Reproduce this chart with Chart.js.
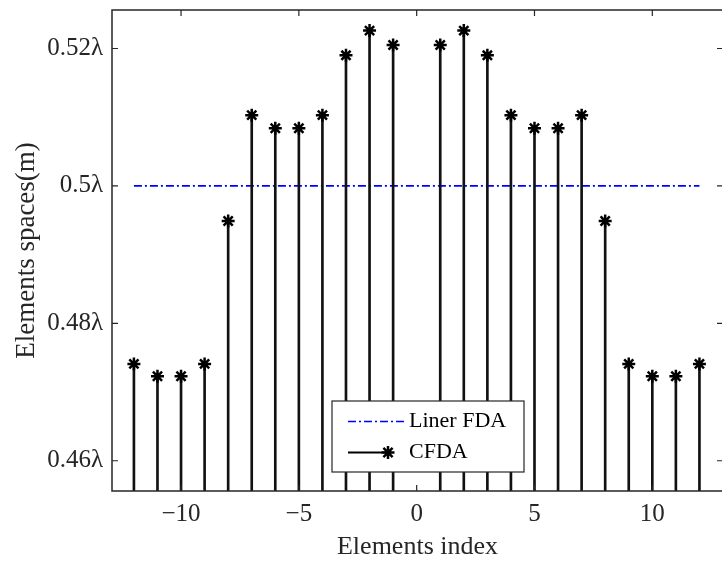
<!DOCTYPE html>
<html>
<head>
<meta charset="utf-8">
<script src="https://cdn.jsdelivr.net/npm/chart.js@4/dist/chart.umd.min.js"></script>
<style>
  html, body { margin: 0; padding: 0; background: #fff; overflow: hidden; }
  #wrap { width: 732px; height: 563px; }
</style>
</head>
<body>
<div id="wrap"><canvas id="myChart" width="732" height="563"></canvas></div>
<script>
// element indices (no element at 0)
var elementIndex = [-12, -11, -10, -9, -8, -7, -6, -5, -4, -3, -2, -1,
                    1, 2, 3, 4, 5, 6, 7, 8, 9, 10, 11, 12];
// CFDA element spacing, in units of lambda
var cfdaSpacing = [0.4741, 0.4723, 0.4723, 0.4741, 0.4949, 0.5103, 0.5084, 0.5084, 0.5103, 0.5190, 0.5226, 0.5205,
                   0.5205, 0.5226, 0.5190, 0.5103, 0.5084, 0.5084, 0.5103, 0.4949, 0.4741, 0.4723, 0.4723, 0.4741];
// linear FDA: uniform half-wavelength spacing
var linerX = [-12, 12];
var linerSpacing = [0.5, 0.5];

var xTicks = [-10, -5, 0, 5, 10];
var yTicks = [0.46, 0.48, 0.5, 0.52];
var xMin = -12.93, xMax = 13;
var yMin = 0.4556, yMax = 0.5256;

var axisColor = "#262626";
var serif = "'Liberation Serif', 'Times New Roman', serif";

// MATLAB-like box with inward ticks, plus a legend inside the axes
var boxPlugin = {
    id: "box",
    afterDraw(chart) {
        var ctx = chart.ctx, a = chart.chartArea;
        var xs = chart.scales.x, ys = chart.scales.y;
        ctx.save();
        ctx.strokeStyle = axisColor;
        ctx.lineWidth = 1.5;
        ctx.strokeRect(a.left, a.top, a.right - a.left, a.bottom - a.top);
        ctx.lineWidth = 1.2;
        var len = 6;
        ctx.beginPath();
        xTicks.forEach(v => {
            var px = xs.getPixelForValue(v);
            ctx.moveTo(px, a.bottom); ctx.lineTo(px, a.bottom - len);
            ctx.moveTo(px, a.top); ctx.lineTo(px, a.top + len);
        });
        yTicks.forEach(v => {
            var py = ys.getPixelForValue(v);
            ctx.moveTo(a.left, py); ctx.lineTo(a.left + len, py);
            ctx.moveTo(a.right, py); ctx.lineTo(a.right - len, py);
        });
        ctx.stroke();

        // legend
        var lx = 332, ly = 401, lw = 192, lh = 71;
        ctx.fillStyle = "#fff";
        ctx.fillRect(lx, ly, lw, lh);
        ctx.strokeStyle = axisColor;
        ctx.lineWidth = 1.2;
        ctx.strokeRect(lx, ly, lw, lh);

        ctx.strokeStyle = "#0000ff";
        ctx.lineWidth = 1.6;
        ctx.setLineDash([8, 3, 2, 3]);
        ctx.beginPath();
        ctx.moveTo(348, 421.5); ctx.lineTo(405, 421.5);
        ctx.stroke();
        ctx.setLineDash([]);

        ctx.strokeStyle = "#000";
        ctx.lineWidth = 1.8;
        ctx.beginPath();
        ctx.moveTo(348, 452.5); ctx.lineTo(388, 452.5);
        ctx.stroke();
        var r = 6.5;
        ctx.lineWidth = 2.5;
        ctx.beginPath();
        for (var k = 0; k < 4; k++) {
            var ang = k * Math.PI / 4;
            ctx.moveTo(388 - r * Math.cos(ang), 452.5 - r * Math.sin(ang));
            ctx.lineTo(388 + r * Math.cos(ang), 452.5 + r * Math.sin(ang));
        }
        ctx.stroke();

        ctx.fillStyle = "#000";
        ctx.font = "22px " + serif;
        ctx.textBaseline = "middle";
        ctx.fillText("Liner FDA", 409, 421.5);
        ctx.fillText("CFDA", 409, 452.5);
        ctx.restore();
    }
};

const data = {
    datasets: [
        {
            type: "line",
            label: "Liner FDA",
            data: linerX.map((x, i) => ({ x: x, y: linerSpacing[i] })),
            borderColor: "#0000ff",
            borderWidth: 1.6,
            borderDash: [8, 3, 2, 3],
            pointRadius: 0,
            fill: false,
            order: 3
        },
        {
            type: "line",
            label: "CFDA markers",
            data: elementIndex.map((x, i) => ({ x: x, y: cfdaSpacing[i] })),
            showLine: false,
            pointStyle: "star",
            pointRadius: 6.5,
            pointBorderWidth: 2.5,
            pointBorderColor: "#000",
            pointBackgroundColor: "#000",
            order: 1
        },
        {
            type: "bar",
            label: "CFDA",
            data: elementIndex.map((x, i) => ({ x: x, y: cfdaSpacing[i] })),
            base: yMin,
            backgroundColor: "#111",
            barThickness: 2,
            order: 2
        }
    ]
};

const config = {
    type: "bar",
    data: data,
    options: {
        responsive: false,
        animation: false,
        layout: { padding: { top: 10, right: 5.5, left: 0, bottom: 0 } },
        plugins: { legend: { display: false }, tooltip: { enabled: false } },
        scales: {
            x: {
                type: "linear",
                min: xMin,
                max: xMax,
                offset: false,
                grid: { display: false, drawTicks: false },
                border: { display: false },
                afterBuildTicks: s => { s.ticks = xTicks.map(v => ({ value: v })); },
                afterFit: s => { s.height = 72; s.paddingLeft = 0; s.paddingRight = 0; },
                ticks: {
                    padding: 8,
                    color: axisColor,
                    font: { family: serif, size: 25 },
                    callback: v => (v < 0 ? "\u2212" + Math.abs(v) : String(v))
                },
                title: {
                    display: true,
                    text: "Elements index",
                    color: axisColor,
                    font: { family: serif, size: 26 },
                    padding: { top: 0, bottom: 0 }
                }
            },
            y: {
                min: yMin,
                max: yMax,
                grid: { display: false, drawTicks: false },
                border: { display: false },
                afterBuildTicks: s => { s.ticks = yTicks.map(v => ({ value: v })); },
                afterFit: s => { s.width = 112; s.paddingTop = 0; s.paddingBottom = 0; },
                ticks: {
                    padding: 9,
                    color: axisColor,
                    font: { family: serif, size: 25 },
                    callback: v => String(+v.toFixed(2)) + "\u03bb"
                },
                title: {
                    display: true,
                    text: "Elements spaces(m)",
                    color: axisColor,
                    font: { family: serif, size: 27 },
                    padding: { top: 11, bottom: 0 }
                }
            }
        }
    },
    plugins: [boxPlugin]
};
const myChart = new Chart(document.getElementById("myChart"), config);
</script>
</body>
</html>
